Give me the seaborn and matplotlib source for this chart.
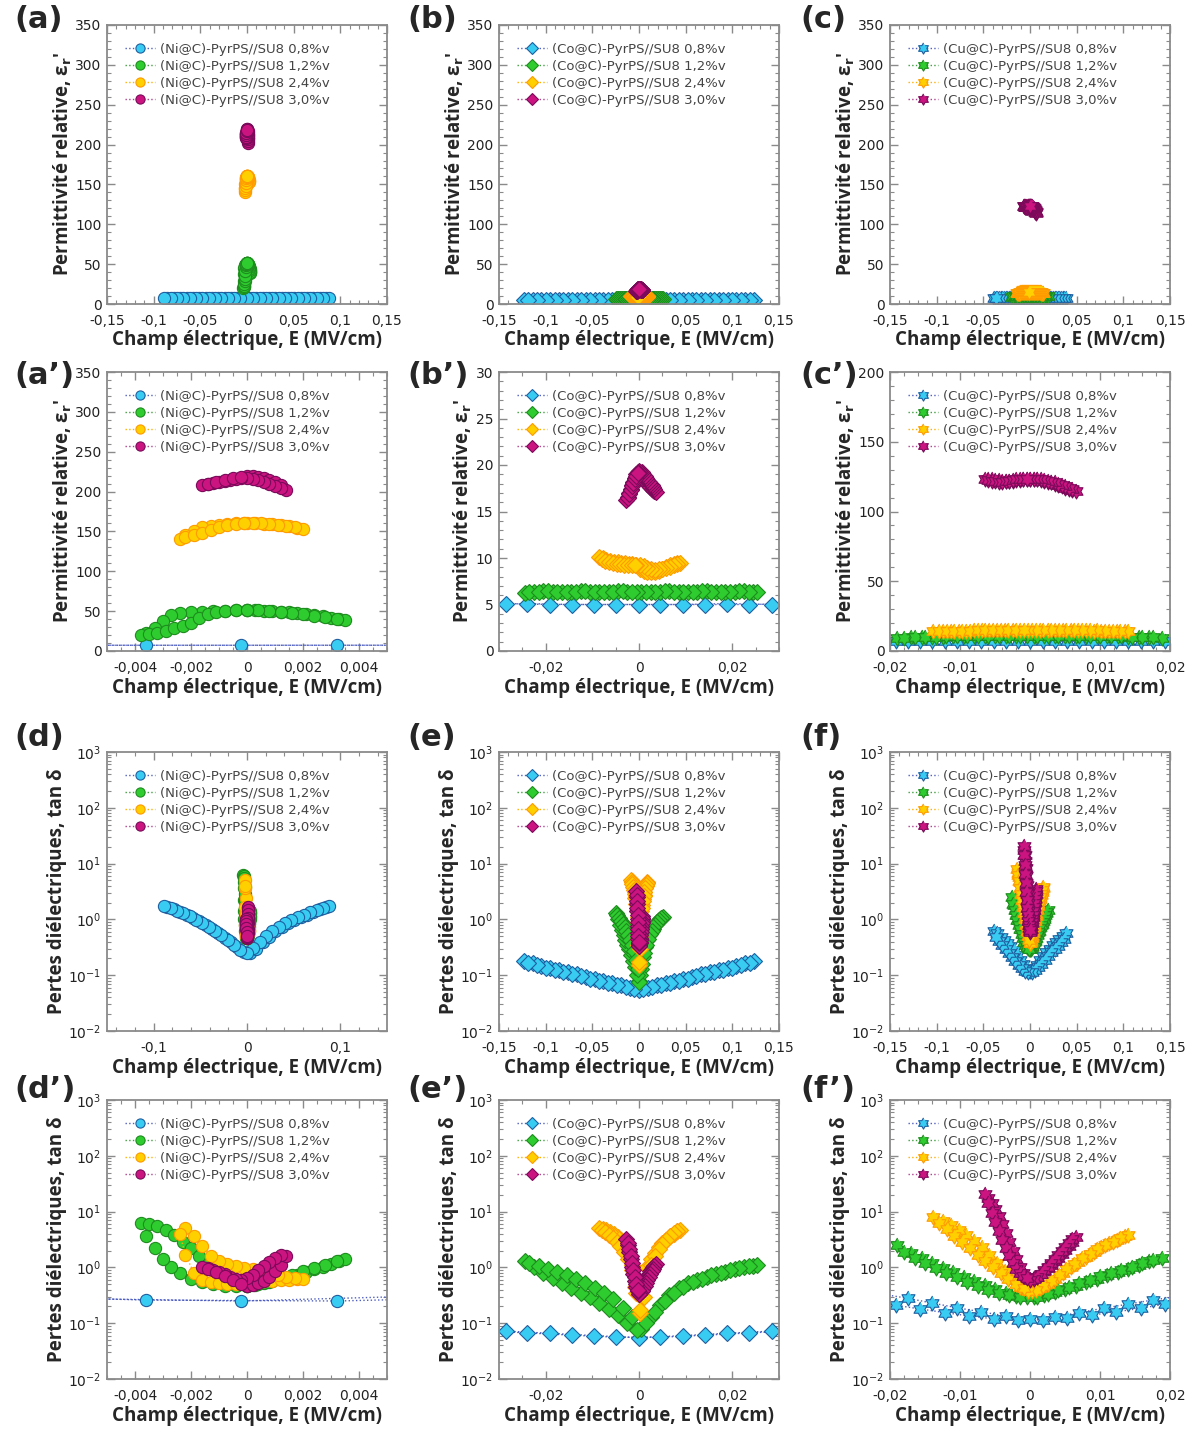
import matplotlib
matplotlib.use("Agg")
import numpy as np
import matplotlib.pyplot as plt
import seaborn as sns
from matplotlib.ticker import FuncFormatter, MultipleLocator, FixedLocator, LogLocator, NullFormatter

# ------------------------------------------------------------------ data
conc_labels = ["0,8%v", "1,2%v", "2,4%v", "3,0%v"]
materials = ["Ni", "Co", "Cu"]

# ---- Ni@C
ni08_E = [-0.0852, -0.0784, -0.0716, -0.0648, -0.0580, -0.0512, -0.0444, -0.0376, -0.0308, -0.0240,
          -0.0172, -0.0104, -0.0036, 0.0032, 0.0100, 0.0168, 0.0236, 0.0304, 0.0372, 0.0440,
          0.0508, 0.0576, 0.0644, 0.0712, 0.0780, 0.0848,
          0.0882, 0.0814, 0.0746, 0.0678, 0.0610, 0.0542, 0.0474, 0.0406, 0.0338, 0.0270,
          0.0202, 0.0134, 0.0066, -0.0002, -0.0070, -0.0138, -0.0206, -0.0274, -0.0342, -0.0410,
          -0.0478, -0.0546, -0.0614, -0.0682, -0.0750, -0.0818, -0.0886]
ni08_eps = [7.3, 7.3, 7.2, 7.2, 7.2, 7.3, 7.2, 7.2, 7.3, 7.2, 7.2, 7.3, 7.2, 7.2, 7.3, 7.2, 7.2, 7.3,
            7.2, 7.2, 7.3, 7.2, 7.2, 7.3, 7.2, 7.2,
            7.3, 7.2, 7.2, 7.3, 7.2, 7.2, 7.3, 7.2, 7.2, 7.3, 7.2, 7.2, 7.3, 7.2, 7.2, 7.3, 7.2, 7.2,
            7.3, 7.2, 7.2, 7.3, 7.2, 7.2, 7.3, 7.2, 7.2]
ni08_tan = [1.70, 1.55, 1.38, 1.22, 1.05, 0.92, 0.80, 0.68, 0.57, 0.47, 0.39, 0.32, 0.26, 0.25, 0.30,
            0.39, 0.49, 0.61, 0.73, 0.85, 0.97, 1.09, 1.22, 1.36, 1.51, 1.66,
            1.76, 1.63, 1.49, 1.35, 1.21, 1.09, 0.96, 0.85, 0.73, 0.61, 0.50, 0.40, 0.31, 0.25, 0.28,
            0.35, 0.43, 0.52, 0.62, 0.74, 0.86, 0.99, 1.13, 1.28, 1.44, 1.59, 1.74]

ni12_E = [0.0000, 0.0003, 0.0006, 0.0009, 0.0012, 0.0015, 0.0018, 0.0021, 0.0024, 0.0027, 0.0030, 0.0033, 0.0035,
          0.0032, 0.0028, 0.0024, 0.0020, 0.0016, 0.0012, 0.0008, 0.0004, 0.0000, -0.0004, -0.0008, -0.0012,
          -0.0016, -0.0020, -0.0024, -0.0027, -0.0030, -0.0033, -0.0036, -0.0038,
          -0.0035, -0.0032, -0.0029, -0.0026, -0.0023, -0.0020, -0.0017, -0.0014, -0.0011, -0.0008, -0.0004, 0.0000]
ni12_eps = [51, 51, 50.5, 50, 49.5, 48.5, 47.5, 46.5, 45, 43.5, 42, 40.5, 39.5,
            40.5, 42.5, 44.5, 46.5, 48, 49.5, 50.5, 51, 51, 51, 50.5, 50, 49.5, 49, 48, 45, 38, 29, 23, 20,
            21, 23, 25.5, 28.5, 31.5, 35, 41, 46.5, 49.5, 50.5, 51, 51]
ni12_tan = [0.47, 0.49, 0.52, 0.56, 0.61, 0.67, 0.74, 0.82, 0.92, 1.03, 1.15, 1.30, 1.42,
            1.28, 1.12, 0.98, 0.85, 0.73, 0.63, 0.55, 0.50, 0.47, 0.46, 0.47, 0.50, 0.55, 0.63, 0.80, 1.0,
            1.4, 2.2, 3.6, 6.2,
            6.0, 5.5, 4.7, 3.8, 2.9, 2.2, 1.6, 1.15, 0.85, 0.65, 0.52, 0.47]

ni24_E = [0.0000, 0.0003, 0.0006, 0.0009, 0.0012, 0.0015, 0.0018, 0.0020,
          0.0017, 0.0014, 0.0011, 0.0008, 0.0005, 0.0002, -0.0001, -0.0004, -0.0007, -0.0010, -0.0013,
          -0.0016, -0.0019, -0.0022, -0.0024,
          -0.0022, -0.0019, -0.0016, -0.0013, -0.0010, -0.0007, -0.0004, -0.0001]
ni24_eps = [160, 160, 159.5, 159, 158, 156.5, 154.5, 152.5,
            155, 157, 158.5, 159.5, 160, 160, 160, 160, 159.5, 158.5, 157, 155, 150, 145, 141,
            143, 145, 148, 152, 156, 158.5, 159.5, 160]
ni24_tan = [0.55, 0.56, 0.57, 0.58, 0.59, 0.60, 0.61, 0.62,
            0.64, 0.68, 0.73, 0.80, 0.86, 0.92, 0.98, 1.05, 1.15, 1.30, 1.60, 2.4, 3.6, 5.0, 3.9,
            1.7, 0.8, 0.6, 0.55, 0.52, 0.50, 0.50, 0.52]

ni30_E = [0.0000, 0.0002, 0.0004, 0.0006, 0.0008, 0.0010, 0.0012, 0.0014,
          0.0012, 0.0010, 0.0008, 0.0006, 0.0004, 0.0002, 0.0000, -0.0002, -0.0004, -0.0006, -0.0008,
          -0.0010, -0.0012, -0.0014, -0.0016,
          -0.0014, -0.0011, -0.0008, -0.0005, -0.0002]
ni30_eps = [219, 219, 218, 217, 215, 212, 208, 202,
            204, 207, 210, 212.5, 214.5, 216, 217, 217, 216, 215, 213.5, 212, 210.5, 209.5, 208.5,
            209.5, 211.5, 214, 216.5, 218.5]
ni30_tan = [0.46, 0.48, 0.52, 0.58, 0.68, 0.85, 1.1, 1.6,
            1.7, 1.5, 1.25, 1.05, 0.88, 0.74, 0.64, 0.60, 0.62, 0.68, 0.75, 0.82, 0.90, 0.97, 1.02,
            0.95, 0.82, 0.70, 0.60, 0.50]

# ---- Co@C
co08_E = [-0.1236, -0.1141, -0.1046, -0.0951, -0.0856, -0.0761, -0.0666, -0.0571, -0.0476, -0.0381,
          -0.0286, -0.0191, -0.0096, -0.0001, 0.0094, 0.0189, 0.0284, 0.0379, 0.0474, 0.0569,
          0.0664, 0.0759, 0.0854, 0.0949, 0.1044, 0.1139, 0.1234,
          0.1186, 0.1091, 0.0996, 0.0901, 0.0806, 0.0711, 0.0616, 0.0521, 0.0426, 0.0331,
          0.0236, 0.0141, 0.0046, -0.0049, -0.0144, -0.0239, -0.0334, -0.0429, -0.0524, -0.0619,
          -0.0714, -0.0809, -0.0904, -0.0999, -0.1094, -0.1189]
co08_eps = [5.0, 5.1, 5.0, 5.0, 5.1, 5.0, 5.0, 5.1, 5.0, 5.0, 5.1, 5.0, 5.0, 5.0, 5.0, 5.1, 5.0, 5.0,
            5.1, 5.0, 5.0, 5.1, 5.0, 5.0, 5.1, 5.0, 5.0,
            5.1, 5.0, 5.0, 5.1, 5.0, 5.0, 5.1, 5.0, 5.0, 5.1, 5.0, 5.0, 5.0, 5.0, 5.0, 5.1, 5.0, 5.0,
            5.1, 5.0, 5.0, 5.1, 5.0, 5.0, 5.1, 5.0]
co08_tan = [0.179, 0.163, 0.148, 0.135, 0.123, 0.112, 0.103, 0.094, 0.086, 0.079, 0.072, 0.066, 0.060,
            0.055, 0.060, 0.066, 0.072, 0.079, 0.086, 0.094, 0.103, 0.112, 0.123, 0.135, 0.148, 0.163, 0.178,
            0.165, 0.150, 0.137, 0.125, 0.114, 0.104, 0.095, 0.087, 0.080, 0.073, 0.067, 0.061, 0.056,
            0.056, 0.061, 0.067, 0.073, 0.080, 0.087, 0.095, 0.104, 0.114, 0.125, 0.137, 0.150, 0.166]

co12_E = [0.0005, 0.0025, 0.0045, 0.0065, 0.0085, 0.0105, 0.0125, 0.0145, 0.0165, 0.0185, 0.0205, 0.0225, 0.0245,
          0.0253, 0.0235, 0.0215, 0.0195, 0.0175, 0.0155, 0.0135, 0.0115, 0.0095, 0.0075, 0.0055, 0.0035,
          0.0015, -0.0005, -0.0025, -0.0045, -0.0065, -0.0085, -0.0105, -0.0125, -0.0145, -0.0165,
          -0.0185, -0.0205, -0.0225, -0.0245,
          -0.0235, -0.0215, -0.0195, -0.0175, -0.0155, -0.0135, -0.0115, -0.0095, -0.0075, -0.0055,
          -0.0035, -0.0015]
co12_eps = [6.3, 6.3, 6.3, 6.4, 6.3, 6.3, 6.3, 6.4, 6.3, 6.3, 6.3, 6.4, 6.3,
            6.3, 6.3, 6.4, 6.3, 6.3, 6.3, 6.4, 6.3, 6.3, 6.3, 6.4, 6.3, 6.3, 6.3, 6.3, 6.4, 6.3, 6.3,
            6.3, 6.4, 6.3, 6.3, 6.3, 6.4, 6.3, 6.2,
            6.3, 6.3, 6.4, 6.3, 6.3, 6.3, 6.4, 6.3, 6.3, 6.3, 6.4, 6.3]
co12_tan = [0.08, 0.13, 0.21, 0.32, 0.42, 0.52, 0.60, 0.68, 0.76, 0.84, 0.92, 1.00, 1.08,
            1.10, 1.04, 0.96, 0.88, 0.80, 0.72, 0.63, 0.54, 0.45, 0.35, 0.25, 0.16, 0.10, 0.075, 0.10,
            0.14, 0.18, 0.23, 0.29, 0.35, 0.43, 0.52, 0.64, 0.80, 1.00, 1.30,
            1.20, 1.05, 0.93, 0.82, 0.72, 0.62, 0.52, 0.43, 0.35, 0.27, 0.19, 0.13]

co24_E = [0.0002, 0.0010, 0.0018, 0.0026, 0.0034, 0.0042, 0.0050, 0.0058, 0.0066, 0.0074, 0.0082, 0.0088,
          0.0082, 0.0074, 0.0066, 0.0058, 0.0050, 0.0042, 0.0034, 0.0026, 0.0018, 0.0010, 0.0002,
          -0.0006, -0.0014, -0.0022, -0.0030, -0.0038, -0.0046, -0.0054, -0.0062, -0.0070, -0.0078, -0.0086,
          -0.0080, -0.0072, -0.0064, -0.0056, -0.0048, -0.0040, -0.0032, -0.0024, -0.0016, -0.0008]
co24_eps = [8.8, 8.6, 8.5, 8.5, 8.5, 8.6, 8.8, 9.0, 9.2, 9.35, 9.5, 9.5,
            9.4, 9.2, 9.05, 8.95, 8.85, 8.8, 8.75, 8.8, 8.95, 9.1, 9.25, 9.3, 9.35, 9.4, 9.45, 9.5,
            9.55, 9.6, 9.7, 9.8, 9.95, 10.1,
            9.9, 9.7, 9.55, 9.45, 9.4, 9.35, 9.3, 9.3, 9.3, 9.3]
co24_tan = [0.15, 0.50, 1.00, 1.40, 1.80, 2.30, 2.70, 3.10, 3.60, 4.00, 4.50, 4.70,
            4.50, 4.10, 3.60, 3.10, 2.60, 2.10, 1.60, 1.10, 0.65, 0.30, 0.17, 0.35, 1.10, 2.00, 2.60,
            3.10, 3.50, 3.90, 4.30, 4.60, 4.90, 5.00,
            4.70, 4.30, 3.80, 3.30, 2.90, 2.40, 1.90, 1.40, 0.90, 0.45]

co30_E = [0.0000, 0.0003, 0.0006, 0.0009, 0.0012, 0.0015, 0.0018, 0.0021, 0.0024, 0.0027, 0.0030, 0.0033, 0.0036,
          0.0033, 0.0030, 0.0027, 0.0024, 0.0021, 0.0018, 0.0015, 0.0012, 0.0009, 0.0006, 0.0003, 0.0000,
          -0.0003, -0.0006, -0.0009, -0.0012, -0.0015, -0.0018, -0.0021, -0.0024, -0.0027,
          -0.0024, -0.0021, -0.0018, -0.0015, -0.0012, -0.0009, -0.0006, -0.0003]
co30_eps = [19.2, 19.0, 18.8, 18.6, 18.4, 18.2, 18.0, 17.8, 17.6, 17.4, 17.3, 17.2, 17.1,
            17.4, 17.6, 17.8, 18.0, 18.2, 18.4, 18.6, 18.8, 19.0, 19.2, 19.3, 19.4, 19.3, 19.0, 18.6,
            18.2, 17.8, 17.4, 17.0, 16.6, 16.2,
            16.5, 16.9, 17.3, 17.7, 18.1, 18.5, 18.8, 19.1]
co30_tan = [0.33, 0.36, 0.40, 0.45, 0.52, 0.60, 0.68, 0.76, 0.85, 0.93, 1.00, 1.08, 1.15,
            1.05, 0.95, 0.85, 0.76, 0.68, 0.60, 0.53, 0.47, 0.42, 0.38, 0.35, 0.34, 0.38, 0.45, 0.56,
            0.75, 1.00, 1.40, 1.90, 2.50, 3.20,
            2.70, 2.10, 1.60, 1.20, 0.90, 0.66, 0.50, 0.40]

# ---- Cu@C
cu08_E = [-0.0385, -0.0350, -0.0315, -0.0280, -0.0245, -0.0210, -0.0175, -0.0140, -0.0105, -0.0070,
          -0.0035, 0.0000, 0.0035, 0.0070, 0.0105, 0.0140, 0.0175, 0.0210, 0.0245, 0.0280, 0.0315,
          0.0350, 0.0385,
          0.0368, 0.0333, 0.0298, 0.0263, 0.0228, 0.0193, 0.0158, 0.0123, 0.0088, 0.0053, 0.0018,
          -0.0017, -0.0052, -0.0087, -0.0122, -0.0157, -0.0192, -0.0227, -0.0262, -0.0297, -0.0332, -0.0367]
cu08_eps = [7.4, 7.3, 7.5, 7.3, 7.4, 7.2, 7.3, 7.4, 7.2, 7.3, 7.1, 7.2, 7.1, 7.3, 7.2, 7.4, 7.3, 7.2,
            7.4, 7.3, 7.5, 7.3, 7.4,
            7.0, 7.1, 7.0, 6.9, 7.1, 7.0, 6.9, 7.0, 7.1, 6.9, 7.0, 7.0, 6.9, 7.1, 7.0, 6.9, 7.0, 7.1,
            7.0, 6.9, 7.1, 7.0]
cu08_tan = [0.63, 0.56, 0.49, 0.43, 0.38, 0.33, 0.28, 0.23, 0.19, 0.16, 0.135, 0.12, 0.13, 0.155,
            0.185, 0.22, 0.26, 0.30, 0.35, 0.40, 0.45, 0.51, 0.57,
            0.45, 0.40, 0.34, 0.30, 0.26, 0.22, 0.185, 0.16, 0.14, 0.125, 0.115, 0.115, 0.12, 0.135,
            0.155, 0.18, 0.21, 0.25, 0.30, 0.35, 0.41, 0.48]

cu12_E = [0.0005, 0.0020, 0.0035, 0.0050, 0.0065, 0.0080, 0.0095, 0.0110, 0.0125, 0.0140, 0.0155, 0.0170, 0.0188,
          0.0175, 0.0160, 0.0145, 0.0130, 0.0115, 0.0100, 0.0085, 0.0070, 0.0055, 0.0040, 0.0025, 0.0010,
          -0.0005, -0.0020, -0.0035, -0.0050, -0.0065, -0.0080, -0.0095, -0.0110, -0.0125, -0.0140,
          -0.0155, -0.0170, -0.0190,
          -0.0180, -0.0165, -0.0150, -0.0135, -0.0120, -0.0105, -0.0090, -0.0075, -0.0060, -0.0045,
          -0.0030, -0.0015]
cu12_eps = [10.5, 10.6, 10.7, 10.8, 10.8, 10.8, 10.7, 10.6, 10.5, 10.3, 10.1, 9.9, 9.6,
            9.8, 10.0, 10.2, 10.4, 10.5, 10.6, 10.7, 10.8, 10.8, 10.8, 10.8, 10.8, 10.8, 10.8, 10.8,
            10.7, 10.7, 10.6, 10.5, 10.4, 10.3, 10.1, 9.9, 9.7, 9.4,
            9.6, 9.9, 10.1, 10.3, 10.4, 10.5, 10.6, 10.7, 10.7, 10.8, 10.8, 10.8]
cu12_tan = [0.29, 0.32, 0.36, 0.41, 0.47, 0.54, 0.62, 0.72, 0.82, 0.95, 1.10, 1.28, 1.50,
            1.35, 1.18, 1.03, 0.90, 0.79, 0.69, 0.60, 0.52, 0.45, 0.39, 0.34, 0.30, 0.29, 0.31, 0.35,
            0.41, 0.48, 0.57, 0.68, 0.82, 0.98, 1.18, 1.45, 1.80, 2.50,
            1.90, 1.50, 1.20, 0.98, 0.80, 0.66, 0.55, 0.46, 0.40, 0.35, 0.32, 0.30]

cu24_E = [0.0003, 0.0014, 0.0025, 0.0036, 0.0047, 0.0058, 0.0069, 0.0080, 0.0091, 0.0102, 0.0113, 0.0124, 0.0135,
          0.0140, 0.0129, 0.0118, 0.0107, 0.0096, 0.0085, 0.0074, 0.0063, 0.0052, 0.0041, 0.0030, 0.0019,
          0.0008, -0.0003, -0.0014, -0.0025, -0.0036, -0.0047, -0.0058, -0.0069, -0.0080, -0.0091,
          -0.0102, -0.0113, -0.0124, -0.0138,
          -0.0130, -0.0119, -0.0108, -0.0097, -0.0086, -0.0075, -0.0064, -0.0053, -0.0042, -0.0031,
          -0.0020, -0.0009]
cu24_eps = [15.2, 15.2, 15.1, 15.0, 15.0, 14.9, 14.8, 14.7, 14.6, 14.5, 14.4, 14.3, 14.2,
            14.3, 14.4, 14.5, 14.6, 14.7, 14.8, 14.9, 15.0, 15.1, 15.2, 15.2, 15.3, 15.3, 15.3, 15.2,
            15.2, 15.1, 15.0, 14.9, 14.8, 14.7, 14.6, 14.5, 14.4, 14.3, 14.1,
            14.2, 14.3, 14.4, 14.5, 14.6, 14.7, 14.8, 14.9, 15.0, 15.1, 15.1, 15.2]
cu24_tan = [0.38, 0.42, 0.50, 0.62, 0.80, 1.00, 1.25, 1.55, 1.90, 2.30, 2.70, 3.10, 3.60,
            3.80, 3.40, 2.90, 2.50, 2.10, 1.75, 1.45, 1.15, 0.92, 0.72, 0.58, 0.47, 0.40, 0.38, 0.45,
            0.60, 0.85, 1.20, 1.70, 2.30, 3.00, 3.80, 4.70, 5.70, 6.70, 7.90,
            6.20, 4.80, 3.70, 2.90, 2.20, 1.70, 1.30, 1.00, 0.80, 0.62, 0.50, 0.42]

cu30_E = [0.0000, 0.0005, 0.0010, 0.0015, 0.0020, 0.0025, 0.0030, 0.0035, 0.0040, 0.0045, 0.0050, 0.0055,
          0.0060, 0.0065,
          0.0060, 0.0055, 0.0050, 0.0045, 0.0040, 0.0035, 0.0030, 0.0025, 0.0020, 0.0015, 0.0010, 0.0005,
          0.0000, -0.0005, -0.0010, -0.0015, -0.0020, -0.0025, -0.0030, -0.0035, -0.0040, -0.0045,
          -0.0050, -0.0055, -0.0060, -0.0064,
          -0.0060, -0.0055, -0.0050, -0.0045, -0.0040, -0.0035, -0.0030, -0.0025, -0.0020, -0.0015,
          -0.0010, -0.0005]
cu30_eps = [123.5, 123.5, 123, 122.5, 122, 121.5, 121, 120, 119, 118, 117, 116, 115.5, 114.5,
            116, 117, 118, 119, 120, 121, 121.5, 122, 122.5, 123, 123, 123, 123, 123, 123, 122.5,
            122.5, 122, 122, 122, 122, 122.5, 122.5, 123, 123, 123,
            122.5, 122, 122, 121.5, 121.5, 122, 122, 122.5, 123, 123.5, 123.5, 123.5]
cu30_tan = [0.62, 0.64, 0.68, 0.75, 0.85, 0.98, 1.12, 1.30, 1.50, 1.75, 2.05, 2.40, 2.90, 3.50,
            3.20, 2.70, 2.30, 1.95, 1.65, 1.40, 1.20, 1.02, 0.88, 0.77, 0.68, 0.62, 0.60, 0.66, 0.80,
            1.00, 1.40, 2.00, 2.90, 4.20, 6.00, 8.30, 11.0, 14.0, 17.5, 21.0,
            14.0, 9.50, 6.50, 4.50, 3.10, 2.20, 1.60, 1.20, 0.95, 0.80, 0.70, 0.64]

series = {
    "Ni": [(ni08_E, ni08_eps, ni08_tan), (ni12_E, ni12_eps, ni12_tan),
           (ni24_E, ni24_eps, ni24_tan), (ni30_E, ni30_eps, ni30_tan)],
    "Co": [(co08_E, co08_eps, co08_tan), (co12_E, co12_eps, co12_tan),
           (co24_E, co24_eps, co24_tan), (co30_E, co30_eps, co30_tan)],
    "Cu": [(cu08_E, cu08_eps, cu08_tan), (cu12_E, cu12_eps, cu12_tan),
           (cu24_E, cu24_eps, cu24_tan), (cu30_E, cu30_eps, cu30_tan)],
}

# ------------------------------------------------------------------ style
sns.set_theme(style="ticks")
plt.rcParams["font.family"] = ["DejaVu Sans"]
plt.rcParams["axes.unicode_minus"] = False

face_c = ["#38CCF2", "#2ECC2E", "#FFD000", "#CC1480"]
edge_c = ["#1F5FA0", "#1E8C1E", "#FF9A00", "#7A0A5A"]
line_c = ["#4F5FC0", "#3FA03F", "#FFB000", "#B04090"]

# hexagram (star of David) marker outline
_ang = np.deg2rad(90 + 30 * np.arange(12))
_rad = np.where(np.arange(12) % 2 == 0, 1.0, 0.58)
hexagram = list(zip(_rad * np.cos(_ang), _rad * np.sin(_ang)))

markers = {"Ni": "o", "Co": "D", "Cu": hexagram}
msizes = {"Ni": 8.8, "Co": 7.8, "Cu": 10.8}

W, H = 1194, 1429
fig = plt.figure(figsize=(W / 100, H / 100), dpi=100)
fig.patch.set_facecolor("white")

col_left = [107, 499, 890]
row_top = [25, 372, 752, 1100]
ax_w, ax_h = 280, 279

panel_names = [["(a)", "(b)", "(c)"], ["(a\u2019)", "(b\u2019)", "(c\u2019)"],
               ["(d)", "(e)", "(f)"], ["(d\u2019)", "(e\u2019)", "(f\u2019)"]]
label_x = [14, 407, 800]
label_y = [20, 375, 738, 1090]


def comma_fmt(v, pos):
    if abs(v) < 1e-12:
        return "0"
    return f"{v:.4g}".replace(".", ",")


def xspec(row, col):
    if row == 0:
        return (-0.15, 0.15), [-0.15, -0.1, -0.05, 0, 0.05, 0.1, 0.15], 0.01
    if row == 2:
        if col == 0:
            return (-0.15, 0.15), [-0.1, 0, 0.1], 0.02
        return (-0.15, 0.15), [-0.15, -0.1, -0.05, 0, 0.05, 0.1, 0.15], 0.01
    if col == 0:
        return (-0.005, 0.005), [-0.004, -0.002, 0, 0.002, 0.004], 0.0005
    if col == 1:
        return (-0.03, 0.03), [-0.02, 0, 0.02], 0.005
    return (-0.02, 0.02), [-0.02, -0.01, 0, 0.01, 0.02], 0.002


def yspec(row, col):
    if row == 1 and col == 1:
        return (0, 30), 5, 1
    if row == 1 and col == 2:
        return (0, 200), 50, 10
    return (0, 350), 50, 10


label_kw = dict(fontsize=13.5, fontweight="bold", family="Open Sans")

for row in range(4):
    for col in range(3):
        mat = materials[col]
        left = col_left[col] / W
        bottom = 1 - (row_top[row] + ax_h) / H
        ax = fig.add_axes([left, bottom, ax_w / W, ax_h / H])
        is_tan = row >= 2
        for i, (E, eps, tan) in enumerate(series[mat]):
            yv = tan if is_tan else eps
            sns.lineplot(x=E, y=yv, sort=False, estimator=None, ax=ax,
                         color=line_c[i], linestyle=":", linewidth=1.0,
                         marker=markers[mat], markersize=msizes[mat],
                         markerfacecolor=face_c[i], markeredgecolor=edge_c[i],
                         markeredgewidth=0.8,
                         label=f"({mat}@C)-PyrPS//SU8 {conc_labels[i]}")
        xl, xt, xm = xspec(row, col)
        ax.set_xlim(*xl)
        ax.xaxis.set_major_locator(FixedLocator(xt))
        ax.xaxis.set_minor_locator(MultipleLocator(xm))
        ax.xaxis.set_major_formatter(FuncFormatter(comma_fmt))
        if is_tan:
            ax.set_yscale("log")
            ax.set_ylim(1e-2, 1e3)
            ax.yaxis.set_major_locator(LogLocator(base=10, numticks=10))
            ax.yaxis.set_minor_locator(LogLocator(base=10, subs=range(2, 10), numticks=10))
            ax.yaxis.set_minor_formatter(NullFormatter())
            ax.set_ylabel("Pertes diélectriques, tan δ", labelpad=1, **label_kw)
        else:
            yl, ym, ymi = yspec(row, col)
            ax.set_ylim(*yl)
            ax.yaxis.set_major_locator(MultipleLocator(ym))
            ax.yaxis.set_minor_locator(MultipleLocator(ymi))
            ax.set_ylabel("Permittivité relative, ε$_\\mathbf{r}$'", labelpad=1, **label_kw)
        ax.set_xlabel("Champ électrique, E (MV/cm)", labelpad=2, **label_kw)
        ax.tick_params(which="both", direction="in", top=True, right=True, color="#8a8a8a",
                       labelcolor="#222222", labelsize=10)
        ax.tick_params(which="major", length=6, width=1.0)
        ax.tick_params(which="minor", length=3, width=0.8)
        ax.tick_params(axis="x", which="major", pad=7)
        ax.tick_params(axis="y", which="major", pad=4)
        for sp in ax.spines.values():
            sp.set_color("#8a8a8a")
            sp.set_linewidth(1.3)
        leg = ax.legend(loc="upper left", bbox_to_anchor=(0.055, 0.945), frameon=False,
                        fontsize=9.5, handlelength=2.3, handletextpad=0.35, markerscale=0.75,
                        labelspacing=0.3, borderaxespad=0.0, borderpad=0.2)
        for t in leg.get_texts():
            t.set_color("#444444")
        fig.text(label_x[col] / W, 1 - label_y[row] / H, panel_names[row][col],
                 fontsize=22, fontweight="bold", family="DejaVu Sans", ha="left", va="center")

fig.savefig("out.png", dpi=100, facecolor="white")
